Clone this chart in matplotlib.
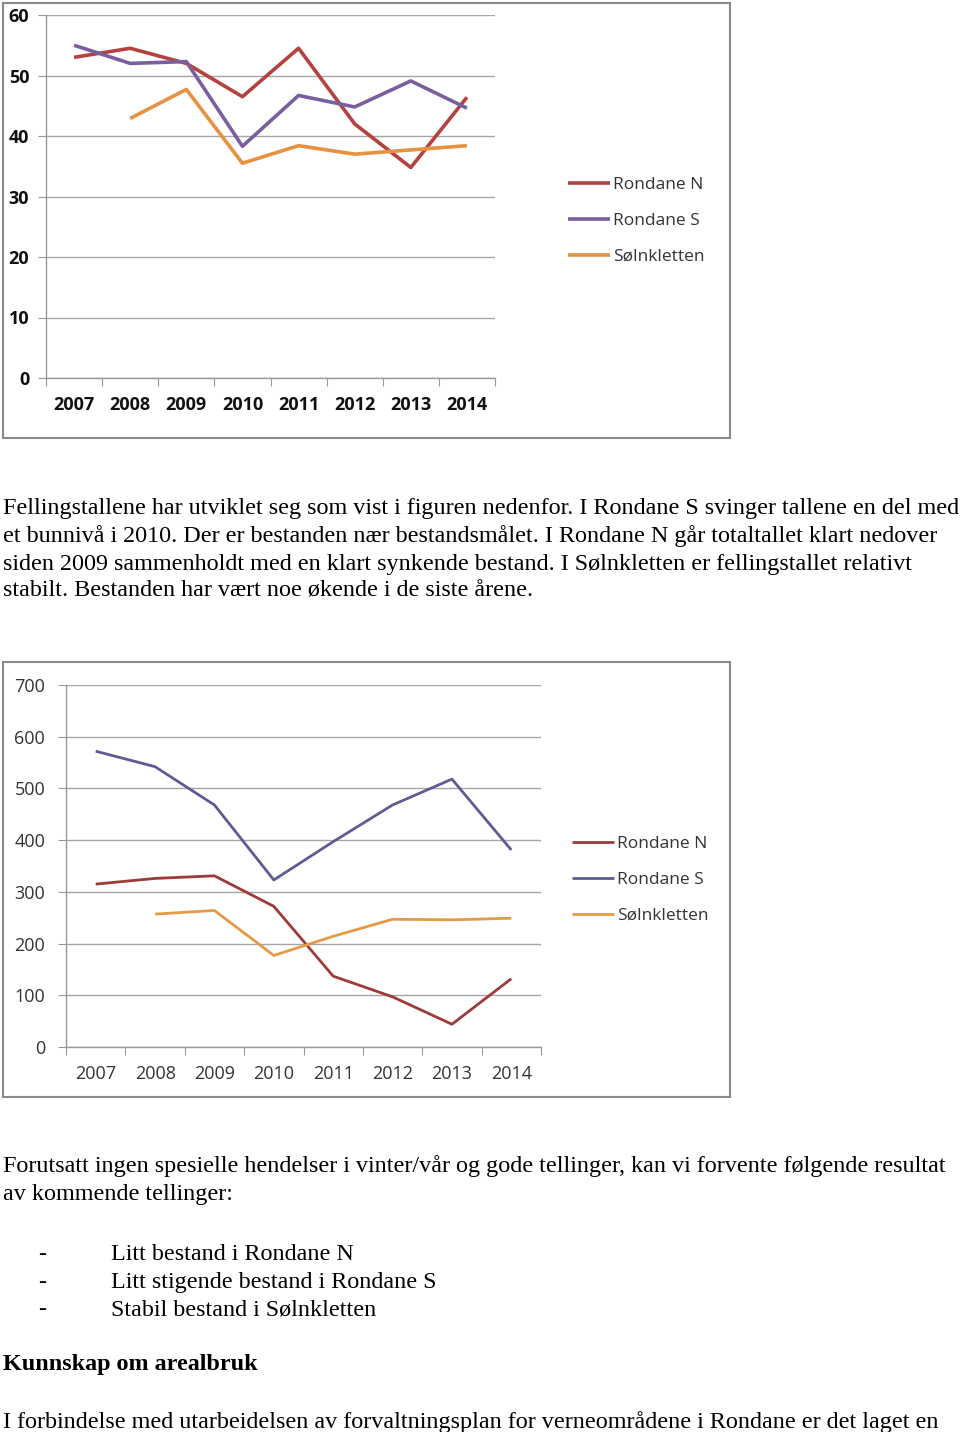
import matplotlib.pyplot as plt
import matplotlib.patches as patches
import numpy as np

years = ['2007', '2008', '2009', '2010', '2011', '2012', '2013', '2014']

# felling numbers (chart 1)
fell_rondane_n = [53, 54.5, 52, 46.5, 54.5, 42, 34.8, 46.4]
fell_rondane_s = [55, 52, 52.3, 38.3, 46.7, 44.8, 49.1, 44.6]
fell_solnkletten = [np.nan, 42.9, 47.7, 35.5, 38.4, 37, 37.7, 38.4]

# population (chart 2)
pop_rondane_n = [315, 326, 331, 272, 137, 97, 44, 132]
pop_rondane_s = [572, 542, 468, 323, 397, 468, 518, 381]
pop_solnkletten = [np.nan, 257, 264, 177, 214, 247, 246, 249]

series_names = ['Rondane N', 'Rondane S', 'Sølnkletten']

para1 = ["Fellingstallene har utviklet seg som vist i figuren nedenfor. I Rondane S svinger tallene en del med",
         "et bunnivå i 2010. Der er bestanden nær bestandsmålet. I Rondane N går totaltallet klart nedover",
         "siden 2009 sammenholdt med en klart synkende bestand. I Sølnkletten er fellingstallet relativt",
         "stabilt. Bestanden har vært noe økende i de siste årene."]
para2 = ["Forutsatt ingen spesielle hendelser i vinter/vår og gode tellinger, kan vi forvente følgende resultat",
         "av kommende tellinger:"]
bullets = ["Litt bestand i Rondane N", "Litt stigende bestand i Rondane S", "Stabil bestand i Sølnkletten"]
heading = "Kunnskap om arealbruk"
last_line = "I forbindelse med utarbeidelsen av forvaltningsplan for verneområdene i Rondane er det laget en"

W, H = 960, 1432
fig = plt.figure(figsize=(W / 100, H / 100), dpi=100)
fig.patch.set_facecolor('white')


def fx(x):
    return x / W


def fy(y):
    return 1 - y / H


def frame(x0, y0, x1, y1):
    r = patches.Rectangle((fx(x0), fy(y1)), fx(x1 - x0), (y1 - y0) / H,
                          transform=fig.transFigure, fill=False,
                          edgecolor='#8a8a8a', linewidth=1.5)
    fig.add_artist(r)


def make_chart(box, data, colors, ymax, step, bold, lw, legend_pos, ypad):
    left, top, right, bottom = box
    ax = fig.add_axes([fx(left), fy(bottom), fx(right - left), (bottom - top) / H])
    x = np.arange(len(years))
    for vals, c, name in zip(data, colors, series_names):
        ax.plot(x, vals, color=c, linewidth=lw, label=name, solid_capstyle='butt')
    ax.set_xlim(-0.5, len(years) - 0.5)
    ax.set_ylim(0, ymax)
    ax.set_yticks(np.arange(0, ymax + 1, step))
    ax.yaxis.grid(True, color='#a6a6a6', linewidth=1)
    ax.set_axisbelow(True)
    for s in ['top', 'right']:
        ax.spines[s].set_visible(False)
    for s in ['left', 'bottom']:
        ax.spines[s].set_color('#999999')
        ax.spines[s].set_linewidth(1)
    weight = 'bold' if bold else 'normal'
    tcolor = '#111111' if bold else '#333333'
    ax.set_xticks(np.arange(-0.5, len(years)), minor=False)
    ax.set_xticklabels([])
    ax.set_xticks(x, minor=True)
    ax.set_xticklabels(years, minor=True, fontsize=13, fontweight=weight,
                       family='Open Sans', color=tcolor)
    ax.tick_params(axis='x', which='major', length=6, color='#999999', direction='out')
    ax.tick_params(axis='x', which='minor', length=0, pad=13)
    ax.tick_params(axis='y', length=6, color='#999999', pad=ypad)
    for t in ax.get_yticklabels():
        t.set_fontsize(13)
        t.set_fontweight(weight)
        t.set_family('Open Sans')
        t.set_color(tcolor)
    ax.legend(loc='center left', bbox_to_anchor=(fx(legend_pos[0]), fy(legend_pos[1])),
              bbox_transform=fig.transFigure, frameon=False, borderpad=0,
              borderaxespad=0, handlelength=2.4, handletextpad=0.2,
              labelspacing=1.12, prop={'family': 'Open Sans', 'size': 12.5},
              labelcolor='#333333')
    return ax


frame(3, 3, 730, 438)
make_chart((46, 15, 495, 378),
           [fell_rondane_n, fell_rondane_s, fell_solnkletten],
           ['#B5423F', '#7A5FA0', '#E8913E'], 60, 10, True, 2.6, (568, 221), 6)

frame(3, 662, 730, 1097)
make_chart((66, 685, 541, 1047),
           [pop_rondane_n, pop_rondane_s, pop_solnkletten],
           ['#9E3A3A', '#5F5C94', '#E59A45'], 700, 100, False, 2.0, (572, 880), 9)

serif = 'Liberation Serif'
fs = 17.4
for line, yb in zip(para1, [514, 542, 570, 597]):
    fig.text(fx(3), fy(yb), line, family=serif, fontsize=fs, va='baseline', ha='left')
for line, yb in zip(para2, [1172, 1200]):
    fig.text(fx(3), fy(yb), line, family=serif, fontsize=fs, va='baseline', ha='left')
for line, yb in zip(bullets, [1260, 1288, 1315]):
    fig.text(fx(38), fy(yb), '-', family=serif, fontsize=fs, va='baseline', ha='left')
    fig.text(fx(111), fy(yb), line, family=serif, fontsize=fs, va='baseline', ha='left')
fig.text(fx(3), fy(1370), heading, family=serif, fontsize=fs, fontweight='bold',
         va='baseline', ha='left')
fig.text(fx(3), fy(1428), last_line, family=serif, fontsize=fs, va='baseline', ha='left')

fig.savefig('out.png', dpi=100)
